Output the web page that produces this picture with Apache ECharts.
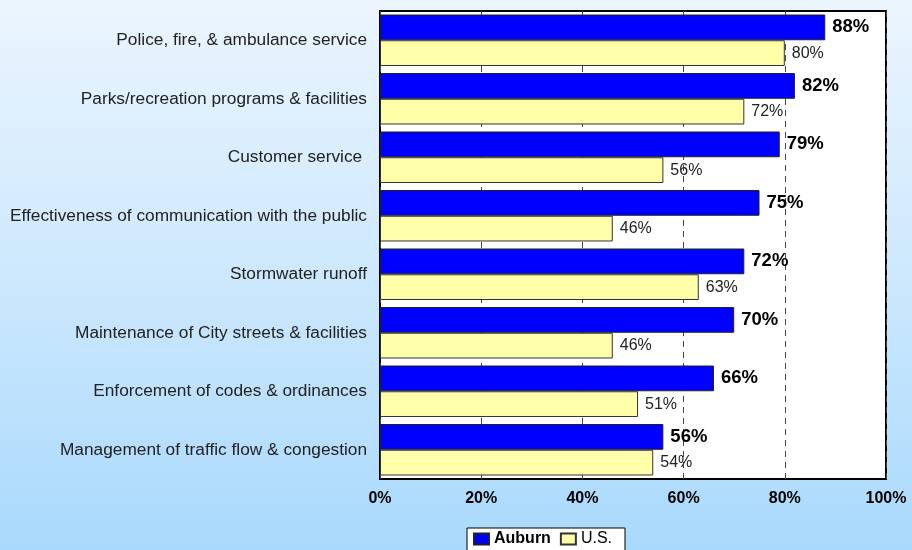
<!DOCTYPE html>
<html>
<head>
<meta charset="utf-8">
<script src="https://cdn.jsdelivr.net/npm/echarts@6/dist/echarts.min.js"></script>
<style>
  html, body { margin: 0; padding: 0; }
  #chart { width: 912px; height: 550px;
    background: linear-gradient(to bottom, #ebf5fe 0%, #cde8fd 50%, #a9d9fc 100%); }
</style>
</head>
<body>
<div id="chart"></div>
<script>
// Services rated, top to bottom
const categories = [
  'Police, fire, & ambulance service',
  'Parks/recreation programs & facilities',
  'Customer service ',
  'Effectiveness of communication with the public',
  'Stormwater runoff',
  'Maintenance of City streets & facilities',
  'Enforcement of codes & ordinances',
  'Management of traffic flow & congestion'
];
// Percent rating each service positively
const auburnValues = [88, 82, 79, 75, 72, 70, 66, 56];
const usValues = [80, 72, 56, 46, 63, 46, 51, 54];
const xTicks = [0, 20, 40, 60, 80, 100];

const chart = echarts.init(document.getElementById('chart'), null, { renderer: 'canvas' });
const font = 'Liberation Sans, Arial, sans-serif';

chart.setOption({
  backgroundColor: 'transparent',
  animation: false,
  textStyle: { fontFamily: font },
  grid: {
    left: 380, right: 26, top: 11, bottom: 71,
    show: true, backgroundColor: '#ffffff', borderColor: '#000000', borderWidth: 2
  },
  legend: {
    top: 528, left: 467,
    icon: 'rect',
    itemWidth: 15, itemHeight: 11, itemGap: 9,
    padding: [3, 13, 6, 6],
    backgroundColor: '#ffffff', borderColor: '#000000', borderWidth: 1,
    data: [
      { name: 'Auburn', textStyle: { fontWeight: 'bold', fontSize: 16, color: '#000', fontFamily: font } },
      { name: 'U.S.', textStyle: { fontWeight: 'normal', fontSize: 16, color: '#000', fontFamily: font } }
    ]
  },
  xAxis: {
    type: 'value', min: xTicks[0], max: xTicks[xTicks.length - 1], interval: 20,
    axisLine: { show: false }, axisTick: { show: false },
    axisLabel: { formatter: '{value}%', fontWeight: 'bold', fontSize: 16, color: '#000', margin: 12, fontFamily: font },
    splitLine: { show: true, lineStyle: { type: [6, 5], color: '#444', width: 1 } }
  },
  yAxis: {
    type: 'category', data: categories, inverse: true,
    axisLine: { show: false }, axisTick: { show: false },
    axisLabel: { fontSize: 17.3, color: '#222', margin: 13, fontFamily: font }
  },
  series: [
    {
      name: 'Auburn', type: 'bar', data: auburnValues,
      barGap: '0%', barCategoryGap: '12%',
      itemStyle: { color: '#0000ff', borderColor: '#222', borderWidth: 1 },
      label: { show: true, position: 'right', distance: 7, formatter: '{c}%',
        fontWeight: 'bold', fontSize: 18.5, color: '#000', fontFamily: font }
    },
    {
      name: 'U.S.', type: 'bar', data: usValues,
      barGap: '0%', barCategoryGap: '12%',
      itemStyle: { color: '#ffffaa', borderColor: '#333', borderWidth: 1 },
      label: { show: true, position: 'right', distance: 7, formatter: '{c}%',
        fontSize: 16, color: '#222', fontFamily: font }
    }
  ]
});
</script>
</body>
</html>
